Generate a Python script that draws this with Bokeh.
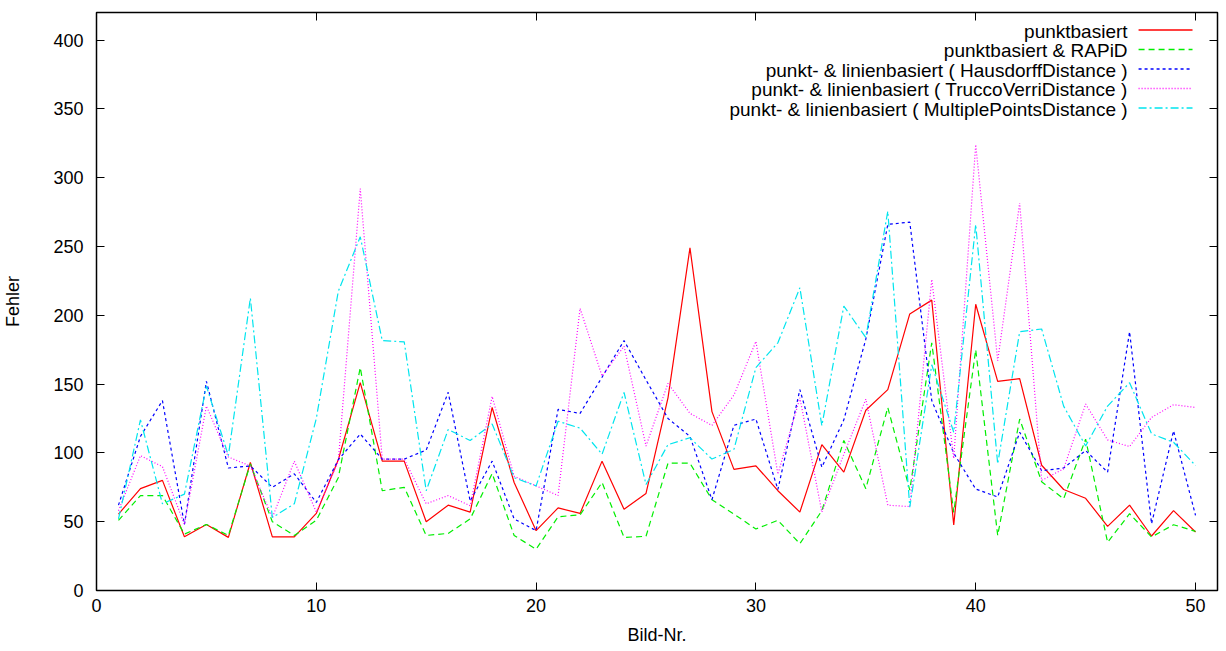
from bokeh.plotting import figure
from bokeh.models import Range1d, LinearAxis, FixedTicker, CustomJSTickFormatter, Label
from bokeh.embed import file_html
from bokeh.resources import INLINE

# ---------------- data ----------------
bild_nr = list(range(1, 51))

punktbasiert = [55.5, 74, 80, 39, 48, 38.6, 93, 39, 39, 56,
                95, 151, 94, 94, 50, 62, 57, 133, 78.5, 43.5,
                60, 56, 94, 59, 70.5, 140, 249, 130, 88, 90.6,
                72.5, 57, 106, 86, 131, 146, 201, 211, 47.6, 208,
                152, 154, 91, 73.4, 67, 46.6, 62, 39.6, 58, 42.5]

punktbasiert_rapid = [51, 69, 69, 41, 48, 40, 92, 50, 40, 51,
                      82, 162, 72.5, 75, 40, 41.5, 52, 85, 40, 30,
                      53.6, 55, 78.5, 38.6, 39.4, 92.5, 92.5, 66, 55.5, 44.7,
                      51, 34, 58, 109, 74, 133, 73, 180, 56.8, 175,
                      40, 124.6, 79, 66.6, 110, 35, 55.8, 38.9, 47.8, 43]

hausdorff = [62, 112, 138, 48, 152, 89, 90.5, 75, 84.8, 64,
             95, 113.7, 95.5, 95.5, 102, 144, 65, 94, 52, 43.5,
             131.6, 128.7, 155, 181.6, 153, 125, 112, 66, 120, 124.6,
             73.4, 146, 89.6, 124, 182.6, 266, 267.7, 138, 99.8, 73.7,
             68, 115, 87, 89, 101.7, 86, 188, 48.5, 116, 54.6]

trucco_verri = [58, 98, 90, 48, 134, 97, 90.5, 53, 94, 57,
                94, 292, 95.5, 95.5, 63, 69, 61.6, 141, 83, 76,
                69, 205, 155.8, 177.5, 105, 150.6, 128.7, 120, 142, 181,
                84.5, 140, 57, 99, 139, 62, 61, 226, 96, 324,
                167, 281.6, 80, 88.4, 135.5, 109.4, 104.6, 125.8, 135, 133]

multiple_points = [52, 124, 63, 70, 148.5, 98, 212.5, 53, 63, 125,
                   217.4, 257, 181.6, 180.7, 72.5, 117, 109, 121, 82, 76,
                   123, 118, 99, 144, 77, 106, 111, 95.5, 102.6, 162,
                   180, 220, 119.8, 206.7, 183.8, 275.6, 60.6, 164, 115, 266,
                   92, 188, 190, 134, 105, 134, 151, 113.8, 107.7, 90.8]

series_labels = ["punktbasiert",
                 "punktbasiert & RAPiD",
                 "punkt- & linienbasiert ( HausdorffDistance )",
                 "punkt- & linienbasiert ( TruccoVerriDistance )",
                 "punkt- & linienbasiert ( MultiplePointsDistance )"]

x_ticks = [0, 10, 20, 30, 40, 50]
y_ticks = [0, 50, 100, 150, 200, 250, 300, 350, 400]

# ---------------- layout / style ----------------
W, H = 1226, 651
FL, FR, FT, FB = 95, 1217, 12, 590   # frame edges in pixels
X0, X1 = 0, 51
Y0, Y1 = 0, 420
FONT = "Liberation Sans"
TICK_FS = "18px"
LABEL_FS = "18px"
LEG_FS = "19px"

styles = [
    dict(color="#ff0000", dash="solid"),
    dict(color="#00ee00", dash="6 4"),
    dict(color="#0000ff", dash="3 3"),
    dict(color="#ff00ff", dash="1 2"),
    dict(color="#00e5ee", dash="8 3 2 3"),
]

p = figure(width=W, height=H, output_backend="svg", toolbar_location=None,
           x_range=Range1d(X0, X1), y_range=Range1d(Y0, Y1),
           min_border_left=FL, min_border_right=W - FR,
           min_border_top=FT, min_border_bottom=H - FB,
           x_axis_label="Bild-Nr.", y_axis_label="Fehler")

p.background_fill_color = "white"
p.border_fill_color = "white"
p.outline_line_color = "black"
p.outline_line_width = 1.5
p.xgrid.visible = False
p.ygrid.visible = False

for ax in (p.xaxis[0], p.yaxis[0]):
    ax.axis_line_color = None
    ax.major_tick_in = 8
    ax.major_tick_out = 0
    ax.minor_tick_line_color = None
    ax.major_tick_line_color = "black"
    ax.major_label_text_font = FONT
    ax.major_label_text_font_size = TICK_FS
    ax.major_label_text_color = "black"
    ax.axis_label_text_font = FONT
    ax.axis_label_text_font_size = LABEL_FS
    ax.axis_label_text_font_style = "normal"
    ax.axis_label_text_color = "black"

p.xaxis[0].ticker = FixedTicker(ticks=x_ticks)
p.yaxis[0].ticker = FixedTicker(ticks=y_ticks)
p.xaxis[0].major_label_standoff = 8
p.yaxis[0].major_label_standoff = 13
p.xaxis[0].axis_label_standoff = 10
p.yaxis[0].axis_label_standoff = 27

blank = CustomJSTickFormatter(code="return '';")
top_ax = LinearAxis(ticker=FixedTicker(ticks=x_ticks), formatter=blank,
                    axis_line_color=None, major_tick_in=8, major_tick_out=0,
                    minor_tick_line_color=None, major_label_standoff=0)
right_ax = LinearAxis(ticker=FixedTicker(ticks=y_ticks), formatter=blank,
                      axis_line_color=None, major_tick_in=8, major_tick_out=0,
                      minor_tick_line_color=None, major_label_standoff=0)
p.add_layout(top_ax, "above")
p.add_layout(right_ax, "right")

all_series = [punktbasiert, punktbasiert_rapid, hausdorff, trucco_verri, multiple_points]
for ys, st in zip(all_series, styles):
    p.line(bild_nr, ys, line_color=st["color"], line_width=1.2, line_dash=st["dash"])

# ---------------- legend (gnuplot style: text right-aligned, sample on right) ----------------
def px2x(px):
    return X0 + (px - FL) / (FR - FL) * (X1 - X0)

def py2y(py):
    return Y0 + (FB - py) / (FB - FT) * (Y1 - Y0)

text_right = 1127
sample_l, sample_r = 1138, 1192
row0, row_step = 29.5, 19.5
for i, (lab, st) in enumerate(zip(series_labels, styles)):
    ry = row0 + i * row_step
    p.add_layout(Label(x=px2x(text_right), y=py2y(ry + 1), text=lab,
                       text_align="right", text_baseline="middle",
                       text_font=FONT, text_font_size=LEG_FS, text_color="black"))
    p.line([px2x(sample_l), px2x(sample_r)], [py2y(ry), py2y(ry)],
           line_color=st["color"], line_width=1.5, line_dash=st["dash"])

open("out.html", "w").write(file_html(p, INLINE))
